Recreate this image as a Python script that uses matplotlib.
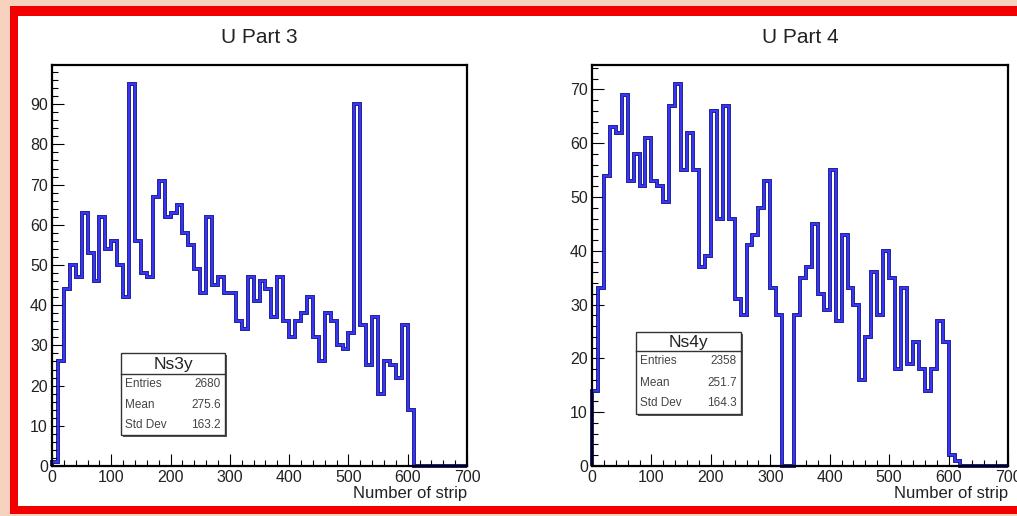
import numpy as np
from matplotlib import pyplot as plt
from matplotlib.patches import Rectangle
from matplotlib.ticker import MultipleLocator

plt.rcParams['font.family'] = ['Liberation Sans', 'DejaVu Sans']

W, H = 1017, 516

# 70 bins of 10 strips, 0..700
edges = np.arange(0, 710, 10)

ns3y = [1, 26, 44, 50, 47, 63, 53, 46, 62, 54, 56, 50, 42, 95, 56, 48, 47, 67, 71, 62,
        63, 65, 58, 55, 49, 43, 62, 45, 47, 43, 43, 36, 34, 47, 41, 46, 44, 37, 47, 36,
        32, 36, 38, 42, 32, 26, 38, 36, 30, 29, 33, 90, 35, 25, 37, 18, 26, 25, 22, 35,
        14, 0, 0, 0, 0, 0, 0, 0, 0, 0]
ns4y = [14, 33, 54, 63, 62, 69, 53, 58, 52, 61, 53, 52, 49, 67, 71, 55, 62, 55, 37, 39,
        66, 46, 67, 46, 31, 28, 41, 43, 48, 53, 33, 28, 0, 0, 28, 35, 37, 45, 32, 29,
        55, 27, 43, 33, 30, 16, 24, 36, 28, 40, 35, 18, 33, 19, 23, 18, 14, 18, 27, 23,
        2, 1, 0, 0, 0, 0, 0, 0, 0, 0]

titles = ['U Part 3', 'U Part 4']
hist_names = ['Ns3y', 'Ns4y']
stat_labels = ['Entries', 'Mean', 'Std Dev']
stats3 = ['2680', '275.6', '163.2']
stats4 = ['2358', '251.7', '164.3']

peach = '#f6d2bf'
red = '#f20000'
txt = '#222222'


def fx(x):
  return x / W


def fy(y):
  return 1 - y / H


def pixel_rect(x0, y0, x1, y1, **kw):
  return Rectangle((fx(x0), fy(y1)), fx(x1) - fx(x0), fy(y0) - fy(y1),
                   transform=fig.transFigure, **kw)


def draw_stats(box, name, values):
  x0, y0, x1, y1, ysep = box
  fig.add_artist(pixel_rect(x0 + 2, y0 + 2, x1 + 2, y1 + 2, facecolor='#555555',
                            edgecolor='none', zorder=5))
  fig.add_artist(pixel_rect(x0, y0, x1, y1, facecolor='white', edgecolor='#333333',
                            lw=1.0, zorder=6))
  fig.add_artist(plt.Line2D([fx(x0), fx(x1)], [fy(ysep), fy(ysep)],
                            transform=fig.transFigure, color='#333333', lw=1.0, zorder=7))
  fig.text(fx((x0 + x1) / 2), fy((y0 + ysep) / 2 + 1), name, ha='center', va='center',
           fontsize=12.5, color=txt, zorder=8)
  rh = (y1 - ysep) / 3.0
  for i, (lab, val) in enumerate(zip(stat_labels, values)):
    yc = ysep + rh * (i + 0.5)
    fig.text(fx(x0 + 4), fy(yc), lab, ha='left', va='center', fontsize=8.5,
             color='#444444', zorder=8)
    fig.text(fx(x1 - 4), fy(yc), val, ha='right', va='center', fontsize=8.5,
             color='#444444', zorder=8)


def draw_hist(ax, values):
  ax.stairs(values, edges, baseline=0, color='#1a1a90', lw=2.8, clip_on=False, zorder=1.5)
  ax.stairs(values, edges, baseline=0, color='#3a3aff', lw=1.3, clip_on=False, zorder=1.6)
  ax.set_xlim(0, 700)
  ax.set_ylim(0, 1.05 * max(values))
  ax.xaxis.set_major_locator(MultipleLocator(100))
  ax.xaxis.set_minor_locator(MultipleLocator(20))
  ax.yaxis.set_major_locator(MultipleLocator(10))
  ax.yaxis.set_minor_locator(MultipleLocator(2))
  ax.tick_params(which='both', direction='in', top=False, right=False, color='black',
                 width=0.8, labelsize=11.5, labelcolor=txt, pad=3)
  ax.tick_params(which='major', length=8.5)
  ax.tick_params(which='minor', length=4.2)
  for s in ax.spines.values():
    s.set_linewidth(1.6)
    s.set_color('black')
  ax.text(1.0, (466 - 498) / 401.0, 'Number of strip', transform=ax.transAxes,
          ha='right', va='baseline', fontsize=12, color=txt)


fig = plt.figure(figsize=(W / 100, H / 100), dpi=100)
fig.patch.set_facecolor(peach)
fig.add_artist(pixel_rect(10, 6, 1040, 514, facecolor=red, edgecolor='none', zorder=-3))
fig.add_artist(pixel_rect(18, 16, 1040, 506, facecolor='white', edgecolor='none', zorder=-2))

ax_l = fig.add_axes([fx(52), fy(466), fx(467) - fx(52), fy(65) - fy(466)])
ax_r = fig.add_axes([fx(592), fy(466), fx(1008) - fx(592), fy(65) - fy(466)])

for ax, vals, title in zip([ax_l, ax_r], [ns3y, ns4y], titles):
  draw_hist(ax, vals)
  pos = ax.get_position()
  fig.text((pos.x0 + pos.x1) / 2, fy(43), title, ha='center', va='baseline',
           fontsize=15, color=txt)

draw_stats((121, 353, 225, 435, 374), hist_names[0], stats3)
draw_stats((636, 332, 741, 414, 351), hist_names[1], stats4)

fig.savefig('out.png', dpi=100, facecolor=peach)
